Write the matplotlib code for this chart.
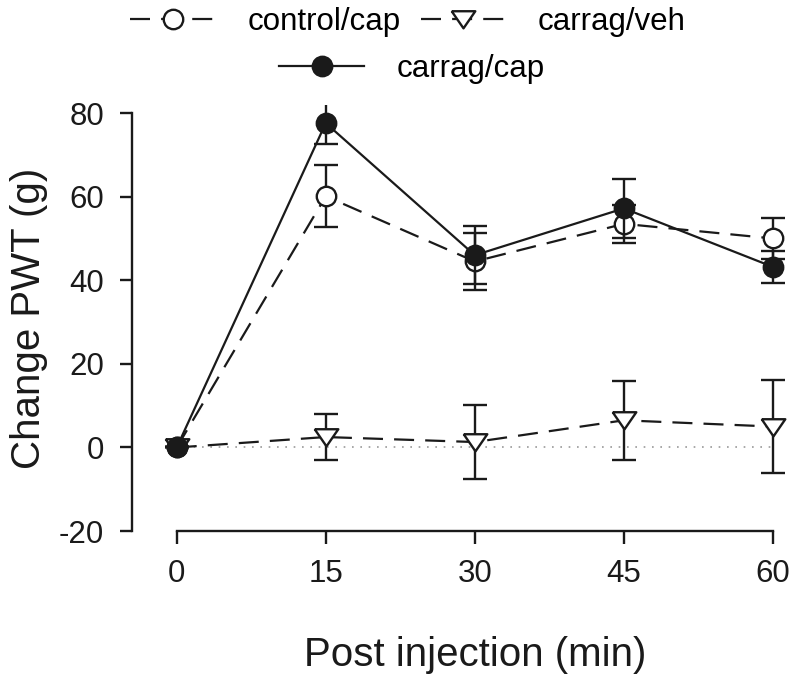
import matplotlib
matplotlib.use('Agg')
import matplotlib.pyplot as plt
import numpy as np

plt.rcParams['font.family'] = ['Liberation Sans', 'DejaVu Sans']
plt.rcParams['axes.unicode_minus'] = False

# data
time = [0, 15, 30, 45, 60]
control_cap = [0, 60.1, 44.5, 53.5, 50.0]
control_cap_err = [0, 7.4, 6.8, 4.5, 5.0]
carrag_veh = [0, 2.5, 1.3, 6.5, 5.0]
carrag_veh_err = [0, 5.5, 8.8, 9.4, 11.2]
carrag_cap = [0, 77.6, 46.0, 57.2, 43.2]
carrag_cap_err = [0, 5.0, 7.0, 7.0, 3.8]

tri = [(-1, 0.7), (1, 0.7), (0, -0.75), (-1, 0.7)]

fig = plt.figure(figsize=(8, 6.8), dpi=100)
ax = fig.add_axes([0.165, 0.219, 0.826, 0.627])

ax.hlines(0, time[0], time[-1], colors='#999999', linestyles=(0, (1, 4)), lw=1.2, zorder=1)

eb = dict(fmt='none', ecolor='#1a1a1a', elinewidth=1.7, capsize=8.5, capthick=1.7)
ax.errorbar(time, control_cap, yerr=control_cap_err, zorder=2, **eb)
ax.errorbar(time, carrag_veh, yerr=carrag_veh_err, zorder=2, **eb)
ax.errorbar(time, carrag_cap, yerr=carrag_cap_err, zorder=4, **eb)

l1, = ax.plot(time, control_cap, color='#1a1a1a', lw=1.6, dashes=(9, 5),
              marker='o', ms=14, mfc='white', mec='#1a1a1a', mew=1.7,
              label='control/cap', zorder=3)
l2, = ax.plot(time, carrag_veh, color='#1a1a1a', lw=1.6, dashes=(9, 5),
              marker=tri, ms=17, mfc='white', mec='#1a1a1a', mew=1.7,
              label='carrag/veh', zorder=3)
l3, = ax.plot(time, carrag_cap, color='#1a1a1a', lw=1.6,
              marker='o', ms=14, mfc='#1a1a1a', mec='#1a1a1a', mew=1.7,
              label='carrag/cap', zorder=5)

ax.set_xlim(-4.5, 62)
ax.set_ylim(-20, 82)
ax.set_xticks(time)
ax.set_yticks([-20, 0, 20, 40, 60, 80])
ax.spines['top'].set_visible(False)
ax.spines['right'].set_visible(False)
ax.spines['bottom'].set_bounds(0, 60)
ax.spines['left'].set_bounds(-20, 80)
for s in ['left', 'bottom']:
    ax.spines[s].set_linewidth(1.7)
    ax.spines[s].set_color('#1a1a1a')
ax.tick_params(axis='both', direction='out', length=9, width=1.7,
               colors='#1a1a1a', labelsize=22.5)
ax.tick_params(axis='y', pad=11)
ax.tick_params(axis='x', pad=11)

ax.set_xlabel('Post injection (min)', fontsize=29, color='#1a1a1a')
ax.xaxis.set_label_coords(0.519, -0.245)
ax.set_ylabel('Change PWT (g)', fontsize=29, labelpad=8, color='#1a1a1a')

leg_kw = dict(frameon=False, fontsize=22.5, handlelength=2.7, handletextpad=1.05,
              numpoints=1, borderaxespad=0, borderpad=0)
leg1 = fig.legend(handles=[l1, l2], ncol=2, loc='center', bbox_to_anchor=(0.51, 0.968),
                  columnspacing=0.64, **leg_kw)
leg2 = fig.legend(handles=[l3], loc='center', bbox_to_anchor=(0.515, 0.898), **leg_kw)

fig.savefig('out.png', dpi=100)
